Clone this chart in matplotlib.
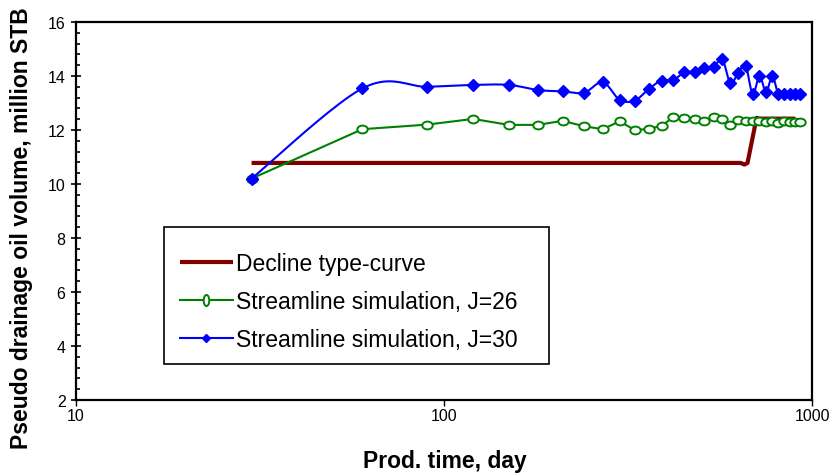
import numpy as np
import matplotlib
matplotlib.use("Agg")
import matplotlib.pyplot as plt
from matplotlib.path import Path
from matplotlib.transforms import Affine2D
from matplotlib.lines import Line2D
from matplotlib.patches import Rectangle
from matplotlib.ticker import FixedLocator, FixedFormatter, MultipleLocator, NullLocator

plt.rcParams['font.family'] = ['Liberation Sans', 'DejaVu Sans']

# production time (days) and pseudo drainage volume (million STB)
decline_t = [30, 640, 655, 668, 707, 720, 900]
decline_v = [10.78, 10.78, 10.72, 10.78, 12.45, 12.42, 12.42]

sim_t = [30, 60, 90, 120, 150, 180, 210, 240, 270, 300, 330, 360, 390, 420, 450,
         480, 510, 540, 570, 600, 630, 660, 690, 720, 750, 780, 810, 840, 870, 900, 930]
j26_v = [10.2, 12.03, 12.2, 12.41, 12.19, 12.19, 12.34, 12.14, 12.03, 12.32, 12.0,
         12.04, 12.16, 12.47, 12.43, 12.41, 12.34, 12.47, 12.41, 12.19, 12.37, 12.34,
         12.35, 12.33, 12.30, 12.33, 12.25, 12.32, 12.28, 12.30, 12.30]
j30_v = [10.2, 13.54, 13.6, 13.67, 13.67, 13.48, 13.43, 13.38, 13.77, 13.12, 13.09,
         13.52, 13.83, 13.85, 14.14, 14.16, 14.28, 14.32, 14.63, 13.74, 14.11, 14.38,
         13.33, 14.0, 13.4, 14.0, 13.33, 13.33, 13.33, 13.33, 13.33]

x_ticks = [10, 100, 1000]
x_ticklabels = ["10", "100", "1000"]


def smooth(t, v, n=24):
    # bezier smoothing through the points (done in screen-like units)
    sx, sy = 368.0, 27.0
    P = np.column_stack([np.log10(t) * sx, np.asarray(v) * sy])
    out = []
    s = np.linspace(0, 1, n)[:, None]
    for i in range(len(P) - 1):
        p0 = P[i - 1] if i > 0 else P[i]
        p1, p2 = P[i], P[i + 1]
        p3 = P[i + 2] if i + 2 < len(P) else P[i + 1]
        c1 = p1 + (p2 - p0) / 6.0
        c2 = p2 - (p3 - p1) / 6.0
        seg = (1 - s) ** 3 * p1 + 3 * (1 - s) ** 2 * s * c1 + 3 * (1 - s) * s ** 2 * c2 + s ** 3 * p2
        out.append(seg if i == 0 else seg[1:])
    xy = np.vstack(out)
    return 10 ** (xy[:, 0] / sx), xy[:, 1] / sy


oval = Path.unit_circle().transformed(Affine2D().scale(1.0, 0.75))
oval_tall = Path.unit_circle().transformed(Affine2D().scale(0.5, 1.0))

red = "#800000"
green = "#008000"
blue = "#0000FF"

fig = plt.figure(figsize=(8.3, 4.77), dpi=100)
ax = fig.add_axes([76 / 830, 1 - 401 / 477, 736 / 830, 378 / 477])

ax.plot(decline_t, decline_v, color=red, lw=3.0, solid_capstyle='butt', zorder=2)
ax.plot(sim_t, j26_v, color=green, lw=1.5, marker=oval, ms=7.5, mfc='white',
        mec=green, mew=1.4, zorder=3)
bx, by = smooth(sim_t, j30_v)
ax.plot(bx, by, color=blue, lw=1.5, zorder=4)
ax.plot(sim_t, j30_v, ls='none', marker='D', ms=6.2, color=blue, zorder=5)

ax.set_xscale('log')
ax.set_xlim(10, 1000)
ax.set_ylim(2, 16)
ax.xaxis.set_major_locator(FixedLocator(x_ticks))
ax.xaxis.set_major_formatter(FixedFormatter(x_ticklabels))
ax.xaxis.set_minor_locator(NullLocator())
ax.yaxis.set_major_locator(MultipleLocator(2))
ax.yaxis.set_minor_locator(MultipleLocator(0.4))

ax.tick_params(axis='x', which='major', direction='out', length=4, width=1,
               labelsize=11.5, pad=1.5)
ax.tick_params(axis='y', which='major', direction='inout', length=7, width=1.2,
               labelsize=11.5, pad=4)
ax.tick_params(axis='y', which='minor', direction='in', length=3.2, width=1.2)
for sp in ax.spines.values():
    sp.set_linewidth(1.6)

fig.text(22 / 830, 1 - 228 / 477, "Pseudo drainage oil volume, million STB",
         rotation=90, ha='center', va='center', fontsize=16.5, fontweight='bold')
fig.text(445 / 830, 1 - 462 / 477, "Prod. time, day", ha='center', va='center',
         fontsize=16.5, fontweight='bold')

handles = [
    Line2D([], [], color=red, lw=3.0, solid_capstyle='butt'),
    Line2D([], [], color=green, lw=1.5, marker=oval_tall, ms=8, mfc='white', mec=green, mew=1.4),
    Line2D([], [], color=blue, lw=1.5, marker='D', ms=4.5),
]
labels = ["Decline type-curve", "Streamline simulation, J=26", "Streamline simulation, J=30"]
fig.legend(handles, labels, loc='upper left', bbox_to_anchor=(180 / 830, 1 - 253 / 477),
           frameon=False, fontsize=16.5, handlelength=2.3, handletextpad=0.15,
           labelspacing=0.66, borderpad=0, borderaxespad=0)
fig.add_artist(Rectangle((164 / 830, 1 - 365 / 477), 385 / 830, 137 / 477,
                         transform=fig.transFigure, fill=False, ec='black', lw=1.2))

fig.savefig("out.png", dpi=100)
